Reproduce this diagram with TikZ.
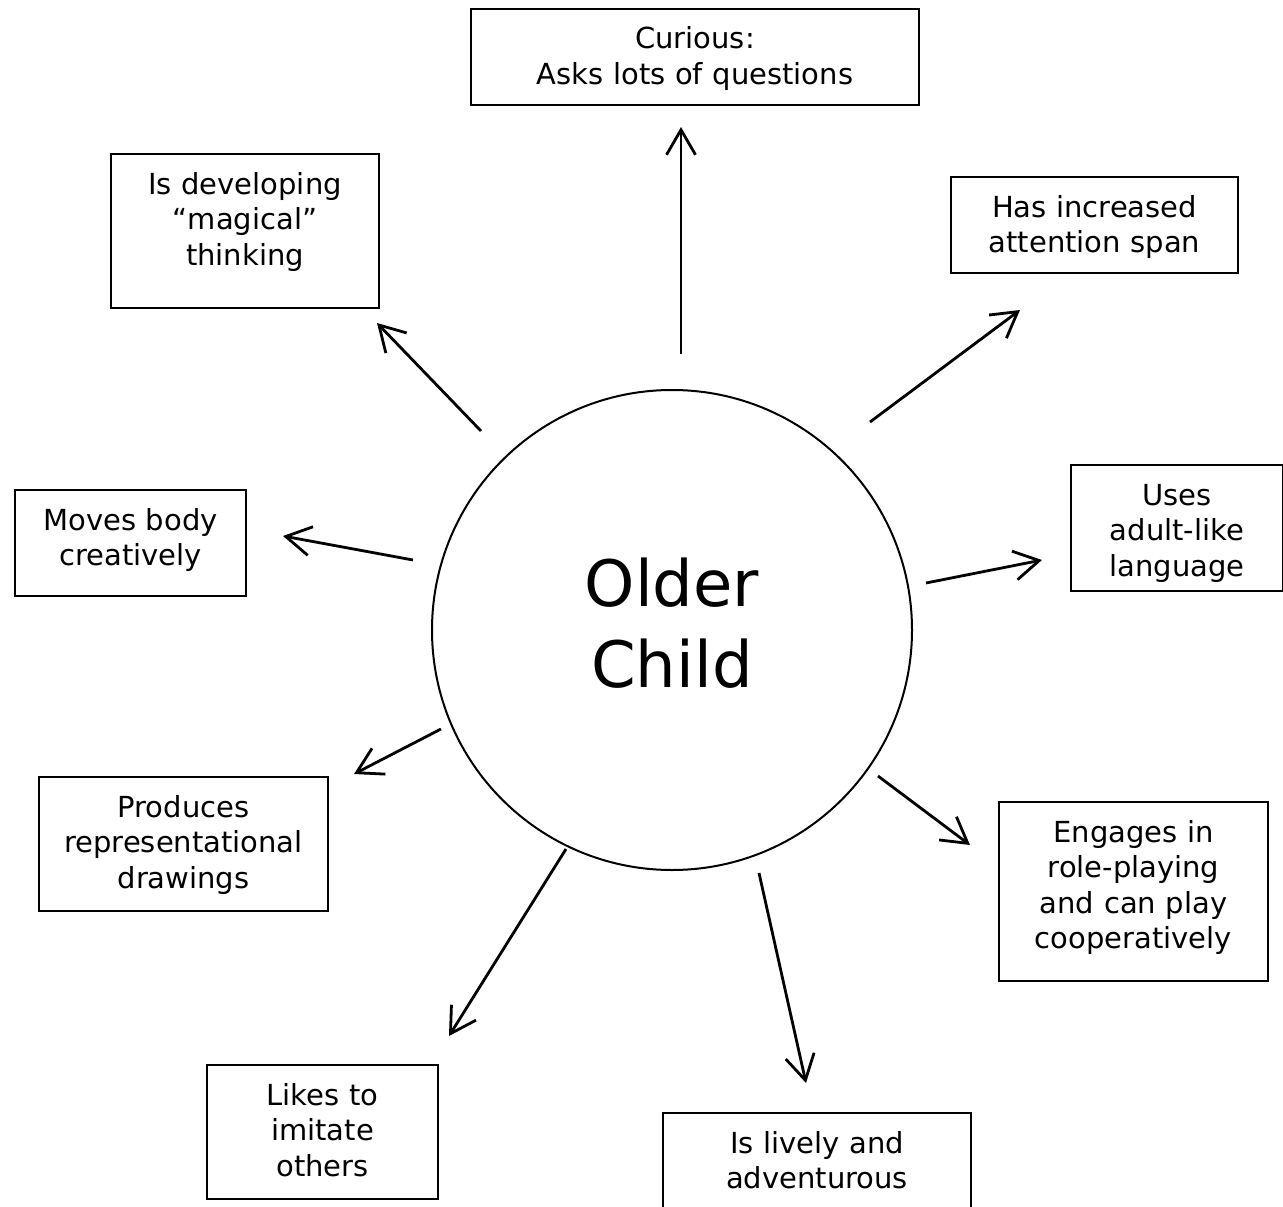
\documentclass[tikz,border=0pt]{standalone}
\usepackage{fontspec}
\setmainfont{DejaVu Sans}
\usetikzlibrary{arrows.meta}

\begin{document}
\begin{tikzpicture}[x=1pt,y=-1pt]
\tikzset{edge/.style = {-{Straight Barb[length=25pt,width=29pt]}, line width=2.8pt}}
\tikzset{trait/.style = {draw, line width=2pt, anchor=north west, inner sep=0pt, align=center, text height=40pt, font=\fontsize{29}{35.5}\selectfont}}

\useasboundingbox (0,0) rectangle (1283,1207);
\clip (0,0) rectangle (1283,1207);

\node[draw, circle, line width=2pt, minimum size=480pt] (child) at (672,630) {};
\node[align=center, font=\fontsize{64}{81}\selectfont] (childname) at (672,623) {Older\\Child};

\node[trait, text width=448pt, text depth=56pt] (curious) at (470,8) {Curious:\\Asks lots of questions};
\node[trait, text width=268pt, text depth=114pt] (magical) at (110,153) {Is developing\\“magical”\\thinking};
\node[trait, text width=287pt, text depth=56pt] (attention) at (950,176) {Has increased\\attention span};
\node[trait, text width=212pt, text depth=86pt] (language) at (1070,464) {Uses\\adult-like\\language};
\node[trait, text width=231pt, text depth=66pt] (moves) at (14,489) {Moves body\\creatively};
\node[trait, text width=289pt, text depth=94pt] (drawings) at (38,776) {Produces\\representational\\drawings};
\node[trait, text width=269pt, text depth=139pt] (roleplay) at (998,801) {Engages in\\role-playing\\and can play\\cooperatively};
\node[trait, text width=231pt, text depth=94pt] (imitate) at (206,1064) {Likes to\\imitate\\others};
\node[trait, text width=308pt, text depth=80pt] (lively) at (662,1112) {Is lively and\\adventurous};

% arrow ends
\coordinate (s1) at (681,354); \coordinate (e1) at (681,127);
\coordinate (s2) at (481,431); \coordinate (e2) at (377,323);
\coordinate (s3) at (870,422); \coordinate (e3) at (1020,310);
\coordinate (s4) at (413,560); \coordinate (e4) at (283,536);
\coordinate (s5) at (926,583); \coordinate (e5) at (1042,560);
\coordinate (s6) at (441,729); \coordinate (e6) at (354,774);
\coordinate (s7) at (878,776); \coordinate (e7) at (970,845);
\coordinate (s8) at (566,849); \coordinate (e8) at (449,1036);
\coordinate (s9) at (759,873); \coordinate (e9) at (806,1083);

\draw[edge] (s1) -- (e1);
\draw[edge] (s2) -- (e2);
\draw[edge] (s3) -- (e3);
\draw[edge] (s4) -- (e4);
\draw[edge] (s5) -- (e5);
\draw[edge] (s6) -- (e6);
\draw[edge] (s7) -- (e7);
\draw[edge] (s8) -- (e8);
\draw[edge] (s9) -- (e9);

\end{tikzpicture}
\end{document}
